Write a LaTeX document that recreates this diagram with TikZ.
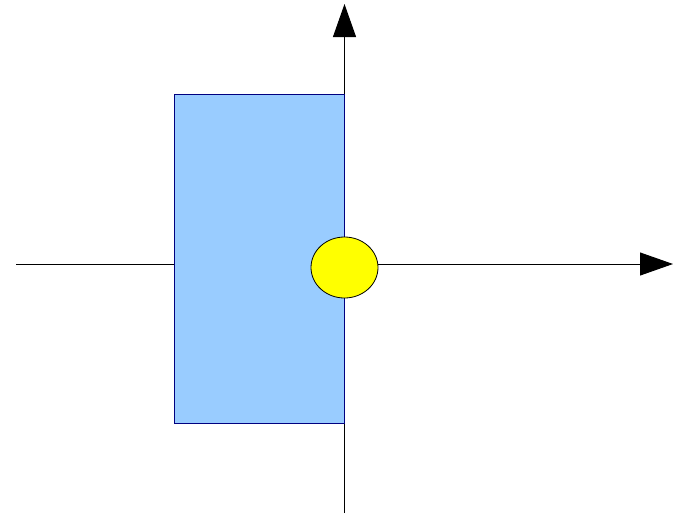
\documentclass[tikz,border=0pt]{standalone}
\usetikzlibrary{arrows.meta,shapes.geometric}
\definecolor{boxfill}{HTML}{99CCFF}
\definecolor{boxline}{HTML}{000080}
\definecolor{dotfill}{HTML}{FFFF00}
\tikzset{
  axis/.style={line width=1pt, black, -{Triangle[length=33pt,width=23pt]}},
  blockbox/.style={draw=boxline, fill=boxfill, line width=1pt, rectangle, inner sep=0pt, minimum width=170pt, minimum height=329pt},
  dotnode/.style={draw=black, fill=dotfill, line width=0.8pt, ellipse, inner sep=0pt, minimum width=67pt, minimum height=61pt}
}
\begin{document}
\begin{tikzpicture}[x=1pt,y=-1pt]
\useasboundingbox (0,0) rectangle (678,515);
\coordinate (ybot) at (344.5,513);
\coordinate (ytop) at (344.5,4);
\coordinate (xleft) at (16,264);
\coordinate (xright) at (673,264);
\draw[axis] (ybot) -- (ytop);
\draw[axis] (xleft) -- (xright);
\node[blockbox] (block) at (259.5,258.5) {};
\node[dotnode] (dot) at (344.5,267.5) {};
\end{tikzpicture}
\end{document}
